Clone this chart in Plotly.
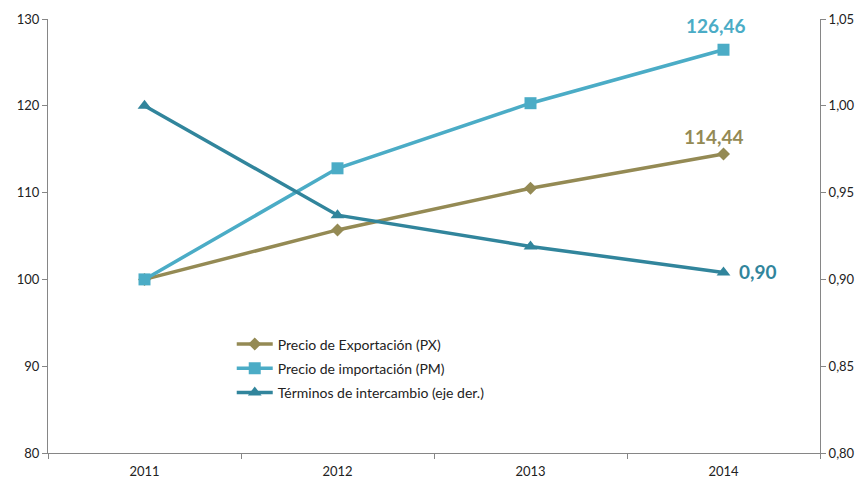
import plotly.graph_objects as go

years = ["2011", "2012", "2013", "2014"]
px_vals = [100.0, 105.7, 110.5, 114.44]
pm_vals = [100.0, 112.8, 120.3, 126.46]
ti_vals = [1.00, 0.937, 0.919, 0.904]

names = ["Precio de Exportación (PX)", "Precio de importación (PM)", "Términos de intercambio (eje der.)"]
c_px = "#948A54"
c_pm = "#4BACC6"
c_ti = "#31859C"

fig = go.Figure()
fig.add_trace(go.Scatter(x=years, y=px_vals, name=names[0], mode="lines+markers", legendgroup="a",
                         line=dict(color=c_px, width=3.5),
                         marker=dict(symbol="diamond", size=10, color=c_px)))
fig.add_trace(go.Scatter(x=years, y=pm_vals, name=names[1], mode="lines+markers", legendgroup="b",
                         line=dict(color=c_pm, width=3.5),
                         marker=dict(symbol="square", size=12, color=c_pm)))
fig.add_trace(go.Scatter(x=years, y=ti_vals, name=names[2], mode="lines+markers", yaxis="y2",
                         legendgroup="c",
                         line=dict(color=c_ti, width=3.5),
                         marker=dict(symbol="triangle-up", size=12, color=c_ti)))

last = len(years) - 1
lab_font = dict(family="Lato, Calibri, sans-serif", size=19)
fig.add_annotation(x=last, y=pm_vals[last], text="<b>" + f"{pm_vals[last]:.2f}".replace(".", ",") + "</b>",
                   showarrow=False, yshift=24, xshift=-8,
                   font=dict(color=c_pm, **lab_font), xref="x", yref="y")
fig.add_annotation(x=last, y=px_vals[last], text="<b>" + f"{px_vals[last]:.2f}".replace(".", ",") + "</b>",
                   showarrow=False, yshift=18, xshift=-10,
                   font=dict(color=c_px, **lab_font), xref="x", yref="y")
fig.add_annotation(x=last, y=ti_vals[last], text="<b>" + f"{ti_vals[last]:.2f}".replace(".", ",") + "</b>",
                   showarrow=False, xanchor="left", xshift=13, yshift=1,
                   font=dict(color=c_ti, **lab_font), xref="x", yref="y2")

axis_col = "#868686"
tick_font = dict(family="Lato, Calibri, sans-serif", size=13, color="#222222")
fig.update_layout(
    width=863, height=479,
    margin=dict(l=48, r=43, t=19, b=26),
    paper_bgcolor="white", plot_bgcolor="white",
    separators=",.",
    showlegend=True,
    legend=dict(x=0.238, y=0.287, xanchor="left", yanchor="top",
                bgcolor="rgba(0,0,0,0)",
                font=dict(family="Lato, Calibri, sans-serif", size=14, color="#222222"),
                itemwidth=36, tracegroupgap=3),
    xaxis=dict(type="category", range=[-0.5, 3.5], showgrid=False, automargin=False,
               showline=True, linecolor=axis_col, linewidth=1,
               ticks="outside", tickson="boundaries", ticklen=5, tickcolor=axis_col,
               ticklabelstandoff=6, tickfont=tick_font),
    yaxis=dict(range=[80, 130], dtick=10, showgrid=False, zeroline=False, automargin=False,
               showline=True, linecolor=axis_col, linewidth=1,
               ticks="outside", ticklen=5, tickcolor=axis_col,
               tickfont=tick_font),
    yaxis2=dict(range=[0.80, 1.05], dtick=0.05, tickformat=".2f", overlaying="y", side="right",
                showgrid=False, zeroline=False, automargin=False,
                showline=True, linecolor=axis_col, linewidth=1,
                ticks="outside", ticklen=5, tickcolor=axis_col,
                tickfont=tick_font),
)

fig.write_html("out.html")
